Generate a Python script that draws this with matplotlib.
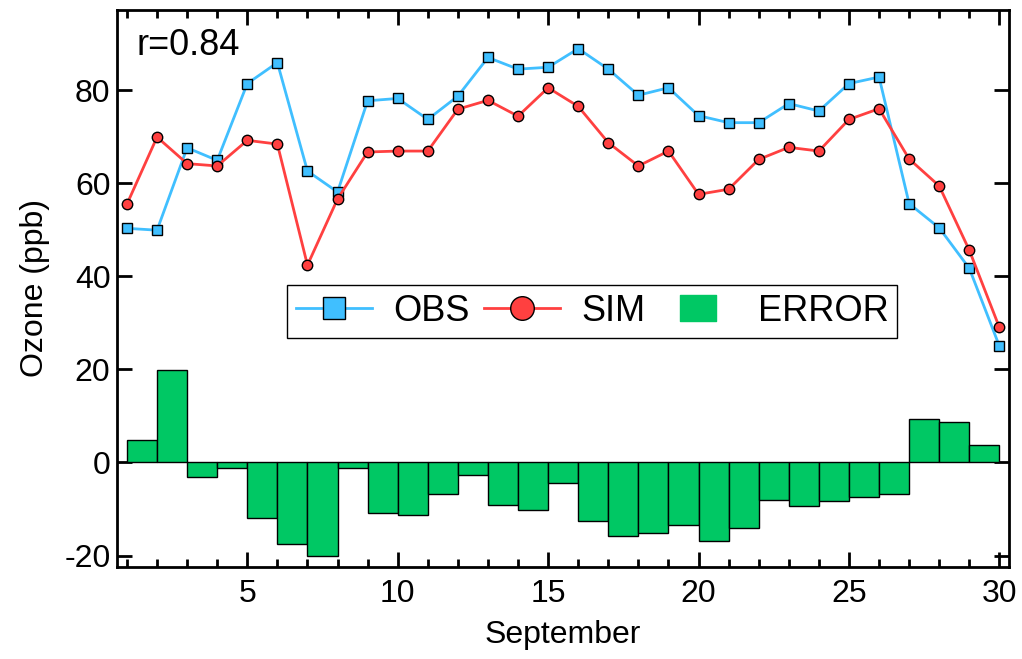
import matplotlib
matplotlib.use('Agg')
import matplotlib.pyplot as plt
from matplotlib.lines import Line2D
from matplotlib.path import Path
from matplotlib.ticker import MultipleLocator

plt.rcParams['font.family'] = ['Liberation Sans', 'DejaVu Sans']
plt.rcParams['axes.unicode_minus'] = False

# daily values, September
days = list(range(1, 31))
obs = [50.3, 49.9, 67.6, 64.9, 81.4, 85.9, 62.6, 58.1, 77.7, 78.2,
       73.7, 78.7, 87.0, 84.5, 84.9, 88.9, 84.5, 78.9, 80.5, 74.5,
       73.0, 73.0, 77.1, 75.5, 81.4, 82.8, 55.6, 50.4, 41.7, 25.0]
sim = [55.5, 69.9, 64.2, 63.7, 69.2, 68.4, 42.4, 56.6, 66.7, 66.9,
       66.9, 75.9, 77.8, 74.4, 80.5, 76.5, 68.7, 63.7, 66.9, 57.6,
       58.7, 65.1, 67.7, 66.9, 73.7, 76.0, 65.2, 59.4, 45.6, 29.0]
error = [4.8, 19.9, -3.1, -1.2, -12.0, -17.6, -20.1, -1.2, -10.8, -11.2,
         -6.7, -2.7, -9.2, -10.2, -4.5, -12.5, -15.8, -15.1, -13.5, -16.8,
         -14.0, -8.0, -9.3, -8.2, -7.5, -6.7, 9.3, 8.6, 3.7]

c_obs = '#40BFFF'
c_sim = '#FF4040'
c_err = '#00C864'

fig = plt.figure(figsize=(10.22, 6.59), dpi=100)
ax = fig.add_axes([0.1148, 0.140, 0.8725, 0.8448])

# error bars, each one spans its day to the next
ax.bar(days[:len(error)], error, width=1, align='edge', color=c_err,
       edgecolor='black', linewidth=1, zorder=2)

ax.plot(days, obs, '-s', color=c_obs, lw=2, ms=7, mec='black', mew=1, zorder=3)
ax.plot(days, sim, '-o', color=c_sim, lw=2, ms=7.5, mec='black', mew=1, zorder=4)

ax.set_xlim(0.68, 30.32)
ax.set_ylim(-22.4, 97.2)
ax.xaxis.set_major_locator(MultipleLocator(5))
ax.xaxis.set_minor_locator(MultipleLocator(1))
ax.yaxis.set_major_locator(MultipleLocator(20))

ax.tick_params(which='both', direction='in', top=True, right=True, width=2,
               labelsize=23)
ax.tick_params(which='major', length=11)
ax.tick_params(which='minor', length=6)
ax.tick_params(axis='x', which='major', pad=9)
ax.tick_params(axis='y', which='major', pad=5)
for s in ax.spines.values():
    s.set_linewidth(2)

ax.set_xlabel('September', fontsize=23, labelpad=8)
ax.set_ylabel('Ozone (ppb)', fontsize=23, labelpad=10)

ax.text(0.022, 0.967, 'r=0.84', transform=ax.transAxes, fontsize=26,
        va='top', ha='left')

# flat rectangle marker for the ERROR legend key
rect = Path([(-1, -0.7), (1, -0.7), (1, 0.7), (-1, 0.7), (-1, -0.7)],
            [Path.MOVETO, Path.LINETO, Path.LINETO, Path.LINETO, Path.CLOSEPOLY])

handles = [
    Line2D([], [], color=c_obs, lw=2, marker='s', ms=16, mec='black', mew=1),
    Line2D([], [], color=c_sim, lw=2, marker='o', ms=17, mec='black', mew=1),
    Line2D([], [], ls='none', marker=rect, ms=26, color=c_err, mec=c_err),
]
leg = ax.legend(handles, ['OBS', 'SIM', 'ERROR'], ncol=3, fontsize=26,
                loc='lower left', bbox_to_anchor=(0.19, 0.411),
                borderaxespad=0, fancybox=False, framealpha=1,
                edgecolor='black', handlelength=2.1, columnspacing=0.4,
                handletextpad=0.6, borderpad=0.25)
leg.get_frame().set_linewidth(1)

plt.savefig('out.png', dpi=100)
